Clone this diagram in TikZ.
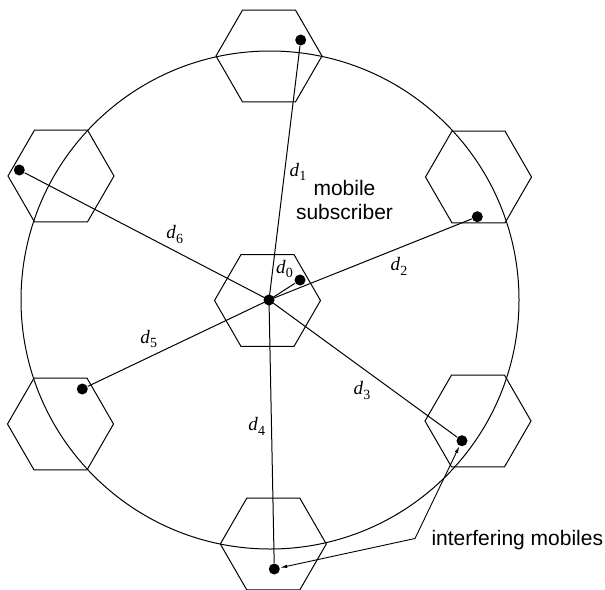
\documentclass[tikz,border=0pt]{standalone}
\usepackage{fontspec}
\setmainfont{Liberation Serif}
\newfontfamily\labsans{Liberation Sans}
\usetikzlibrary{shapes.geometric,arrows.meta}
\newcommand\dlab[1]{\fontsize{19}{19}\selectfont\textit{d}\kern0.2pt\raisebox{-0.5ex}{\fontsize{14}{14}\selectfont #1}}
\begin{document}
\begin{tikzpicture}[x=1pt,y=-1pt,line width=1pt,
  hexcell/.style={draw,regular polygon,regular polygon sides=6,minimum size=106pt,inner sep=0pt,outer sep=0pt},
  dot/.style={circle,fill=black,inner sep=0pt,minimum size=11pt},
  dlabel/.style={inner sep=0pt},
  txt/.style={font=\labsans\fontsize{21}{24.5}\selectfont,inner sep=0pt,align=center},
  ptr/.style={line width=0.9pt,-{Latex[length=7pt,width=3.5pt]}}]
\useasboundingbox (0,0) rectangle (605,589);
% big circle
\node[draw,circle,minimum size=498pt,inner sep=0pt,outer sep=0pt] (ring) at (270,300) {};
% hexagonal cells
\node[hexcell] (h0) at (267.5,300.5) {};
\node[hexcell] (h1) at (269,56) {};
\node[hexcell] (h2) at (478.5,177) {};
\node[hexcell] (h3) at (478,421) {};
\node[hexcell] (h4) at (273.3,544) {};
\node[hexcell] (h5) at (60.5,424) {};
\node[hexcell] (h6) at (61,176) {};
% mobiles
\node[dot] (c) at (269,300) {};
\node[dot] (m0) at (300,280) {};
\node[dot] (m1) at (300.7,40) {};
\node[dot] (m2) at (477.3,216.7) {};
\node[dot] (m3) at (462,440.7) {};
\node[dot] (m4) at (274.3,569) {};
\node[dot] (m5) at (82.3,389) {};
\node[dot] (m6) at (19.3,170) {};
% distances
\foreach \i in {0,...,6} \draw (c.center) -- (m\i);
% labels
\node[dlabel] (l0) at (284.5,269) {\dlab{0}};
\node[dlabel] (l1) at (298,172) {\dlab{1}};
\node[dlabel] (l2) at (399,266.5) {\dlab{2}};
\node[dlabel] (l3) at (362,390.5) {\dlab{3}};
\node[dlabel] (l4) at (256.7,426.5) {\dlab{4}};
\node[dlabel] (l5) at (148.8,338.7) {\dlab{5}};
\node[dlabel] (l6) at (174.7,234.5) {\dlab{6}};
\node[txt,anchor=base] (ms) at (344.5,219.5) {mobile\\subscriber};
% interfering mobiles pointer
\coordinate (j) at (415,538.5);
\node[txt,anchor=base west] (im) at (431,545) {interfering mobiles};
\draw[ptr] (j) -- (m3);
\draw[ptr] (j) -- (m4);
\end{tikzpicture}
\end{document}
